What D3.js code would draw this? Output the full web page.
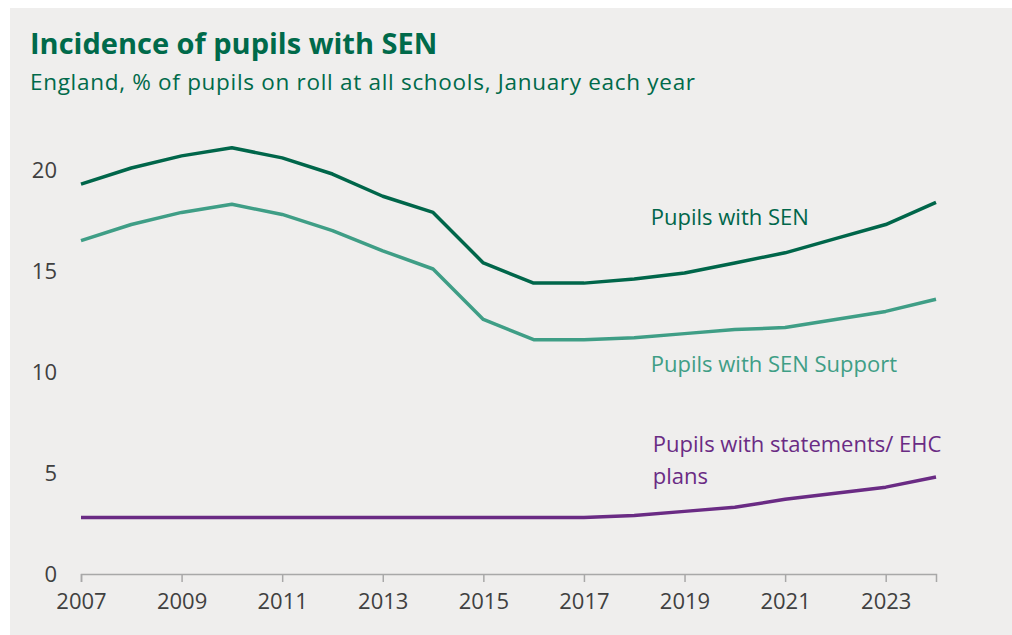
<!DOCTYPE html>
<html>
<head>
<meta charset="utf-8">
<script src="https://cdn.jsdelivr.net/npm/d3@7"></script>
<style>
  body { margin: 0; background: #fff; }
  svg text { font-family: "Open Sans", "Noto Sans", sans-serif; }
</style>
</head>
<body>
<div id="root"></div>
<script>
// DATA
const years = [2007, 2008, 2009, 2010, 2011, 2012, 2013, 2014, 2015, 2016, 2017, 2018, 2019, 2020, 2021, 2022, 2023, 2024];
const senAll = [19.3, 20.1, 20.7, 21.1, 20.6, 19.8, 18.7, 17.9, 15.4, 14.4, 14.4, 14.6, 14.9, 15.4, 15.9, 16.6, 17.3, 18.4];
const senSupport = [16.5, 17.3, 17.9, 18.3, 17.8, 17.0, 16.0, 15.1, 12.6, 11.6, 11.6, 11.7, 11.9, 12.1, 12.2, 12.6, 13.0, 13.6];
const statements = [2.8, 2.8, 2.8, 2.8, 2.8, 2.8, 2.8, 2.8, 2.8, 2.8, 2.8, 2.9, 3.1, 3.3, 3.7, 4.0, 4.3, 4.8];
const yTicks = [0, 5, 10, 15, 20];
const xTicks = [2007, 2009, 2011, 2013, 2015, 2017, 2019, 2021, 2023];

const width = 1012, height = 635;
const margin = {top: 130, right: 76, bottom: 61, left: 81};

const svg = d3.select('#root').append('svg')
  .attr('width', width)
  .attr('height', height);

// panel background
svg.append('rect')
  .attr('x', 10).attr('y', 8)
  .attr('width', width - 10).attr('height', height - 8)
  .attr('fill', '#efeeed');

// titles
svg.append('text')
  .attr('x', 30).attr('y', 54)
  .attr('fill', '#006a4a')
  .attr('font-size', 29)
  .attr('font-weight', 700)
  .text('Incidence of pupils with SEN');

svg.append('text')
  .attr('x', 30).attr('y', 90)
  .attr('fill', '#006a4a')
  .attr('font-size', 22.5)
  .attr('letter-spacing', 0.7)
  .text('England, % of pupils on roll at all schools, January each year');

// SCALES
const x = d3.scaleLinear()
  .domain([2007, 2024])
  .range([margin.left, width - margin.right]);

const y = d3.scaleLinear()
  .domain([0, 20])
  .range([height - margin.bottom, height - margin.bottom - 404]);

// X AXIS
const xAxis = svg.append('g')
  .attr('transform', `translate(0,${height - margin.bottom})`)
  .call(d3.axisBottom(x).tickValues(xTicks).tickFormat(d3.format('d')).tickSize(8).tickPadding(11));
xAxis.select('.domain').attr('stroke', '#a8a8a8').attr('stroke-width', 1.5);
xAxis.selectAll('.tick line').attr('stroke', '#a8a8a8').attr('stroke-width', 1.5);
xAxis.selectAll('.tick text').attr('font-size', 22).attr('fill', '#404040').attr('font-family', '"Open Sans", sans-serif');

// Y AXIS (labels only)
const yAxis = svg.append('g')
  .attr('transform', `translate(${margin.left},0)`)
  .call(d3.axisLeft(y).tickValues(yTicks).tickSize(0).tickPadding(24));
yAxis.select('.domain').remove();
yAxis.selectAll('.tick text').attr('font-size', 22).attr('fill', '#404040').attr('font-family', '"Open Sans", sans-serif');

// LINES
const series = [
  {values: senAll, color: '#00664a', label: ['Pupils with SEN'], lx: 2018.33, ly: 17.3},
  {values: senSupport, color: '#3f9e86', label: ['Pupils with SEN Support'], lx: 2018.33, ly: 10.0},
  {values: statements, color: '#6a2b84', label: ['Pupils with statements/ EHC', 'plans'], lx: 2018.37, ly: 6.04}
];

const line = d3.line()
  .x((d, i) => x(years[i]))
  .y(d => y(d));

series.forEach(s => {
  svg.append('path')
    .datum(s.values)
    .attr('fill', 'none')
    .attr('stroke', s.color)
    .attr('stroke-width', 3.5)
    .attr('stroke-linejoin', 'round')
    .attr('d', line);

  const t = svg.append('text')
    .attr('x', x(s.lx))
    .attr('y', y(s.ly))
    .attr('fill', s.color)
    .attr('font-size', 22);
  s.label.forEach((l, i) => {
    t.append('tspan')
      .attr('x', x(s.lx))
      .attr('dy', i === 0 ? 0 : 32)
      .text(l);
  });
});
</script>
</body>
</html>
